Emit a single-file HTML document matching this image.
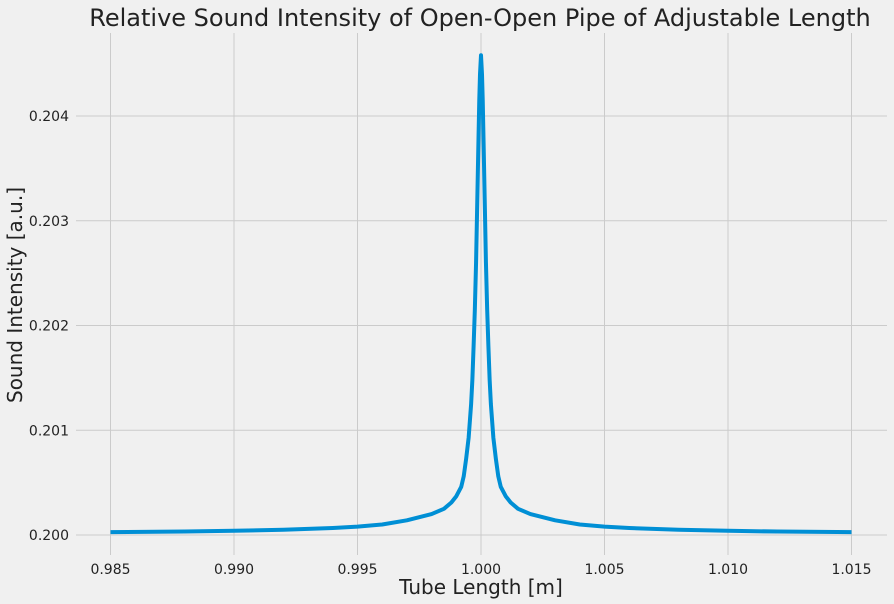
<!DOCTYPE html>
<html><head><meta charset="utf-8"><style>
body{margin:0;background:#f0f0f0;}
svg{display:block;font-family:"DejaVu Sans","Liberation Sans",sans-serif;}
</style></head><body>
<svg id="chart" width="894" height="604">
<rect width="894" height="604" fill="#f0f0f0"/>
<g id="grid"></g><g id="ticks"></g><g id="series"></g>
<text x="480" y="26" text-anchor="middle" font-size="24" fill="#222">Relative Sound Intensity of Open-Open Pipe of Adjustable Length</text>
<text x="481" y="594" text-anchor="middle" font-size="20" fill="#222">Tube Length [m]</text>
<text transform="translate(22,295) rotate(-90)" text-anchor="middle" font-size="20" fill="#222">Sound Intensity [a.u.]</text>
</svg>
<script>
const xTicks=[0.985,0.990,0.995,1.000,1.005,1.010,1.015];
const yTicks=[0.200,0.201,0.202,0.203,0.204];
const xVals=[0.985,0.988,0.990,0.992,0.994,0.995,0.996,0.997,0.9975,0.998,0.9985,0.9988,0.999,0.9992,0.9993,0.9994,0.9995,0.9996,0.99965,0.9997,0.99975,0.9998,0.99985,0.9999,0.99993,0.99996,1.0,1.00004,1.00007,1.0001,1.00015,1.0002,1.00025,1.0003,1.00035,1.0004,1.0005,1.0006,1.0007,1.0008,1.001,1.0012,1.0015,1.002,1.0025,1.003,1.004,1.005,1.006,1.008,1.010,1.012,1.015];
const yVals=[0.200027,0.200033,0.20004,0.20005,0.200067,0.20008,0.2001,0.20014,0.20017,0.2002,0.20025,0.20031,0.20037,0.20046,0.20056,0.20073,0.20093,0.20125,0.20148,0.2018,0.20215,0.2026,0.2032,0.2038,0.20415,0.2044,0.20458,0.2044,0.20415,0.2038,0.2032,0.2026,0.20215,0.2018,0.20148,0.20125,0.20093,0.20073,0.20056,0.20046,0.20037,0.20031,0.20025,0.2002,0.20017,0.20014,0.2001,0.20008,0.200067,0.20005,0.20004,0.200033,0.200027];
const NS='http://www.w3.org/2000/svg';
const L=76,R=887,T=33,B=555;
function sx(v){return 110.5+(v-0.985)/0.005*123.5;}
function sy(v){return 535-(v-0.200)/0.001*104.75;}
const grid=document.getElementById('grid'),ticks=document.getElementById('ticks'),ser=document.getElementById('series');
xTicks.forEach(t=>{
 const l=document.createElementNS(NS,'line');
 l.setAttribute('x1',sx(t));l.setAttribute('x2',sx(t));l.setAttribute('y1',T);l.setAttribute('y2',B);
 l.setAttribute('stroke','#cbcbcb');l.setAttribute('stroke-width','1');
 
 
 grid.appendChild(l);
 const tx=document.createElementNS(NS,'text');
 tx.setAttribute('x',sx(t));tx.setAttribute('y',574);tx.setAttribute('text-anchor','middle');
 tx.setAttribute('font-size','14');tx.setAttribute('fill','#222');
 tx.textContent=t.toFixed(3);
 
 
 ticks.appendChild(tx);
});
yTicks.forEach(t=>{
 const l=document.createElementNS(NS,'line');
 l.setAttribute('x1',L);l.setAttribute('x2',R);l.setAttribute('y1',sy(t));l.setAttribute('y2',sy(t));
 l.setAttribute('stroke','#cbcbcb');l.setAttribute('stroke-width','1');
 
 
 grid.appendChild(l);
 const tx=document.createElementNS(NS,'text');
 tx.setAttribute('x',69);tx.setAttribute('y',sy(t)+5);tx.setAttribute('text-anchor','end');
 tx.setAttribute('font-size','14');tx.setAttribute('fill','#222');
 tx.textContent=t.toFixed(3);
 
 
 ticks.appendChild(tx);
});
const p=document.createElementNS(NS,'path');
p.setAttribute('d',xVals.map((x,i)=>(i?'L':'M')+sx(x).toFixed(2)+','+sy(yVals[i]).toFixed(2)).join(' '));
p.setAttribute('fill','none');p.setAttribute('stroke','#008fd5');p.setAttribute('stroke-width','4');p.setAttribute('stroke-linejoin','round');


ser.appendChild(p);
</script>
</body></html>
